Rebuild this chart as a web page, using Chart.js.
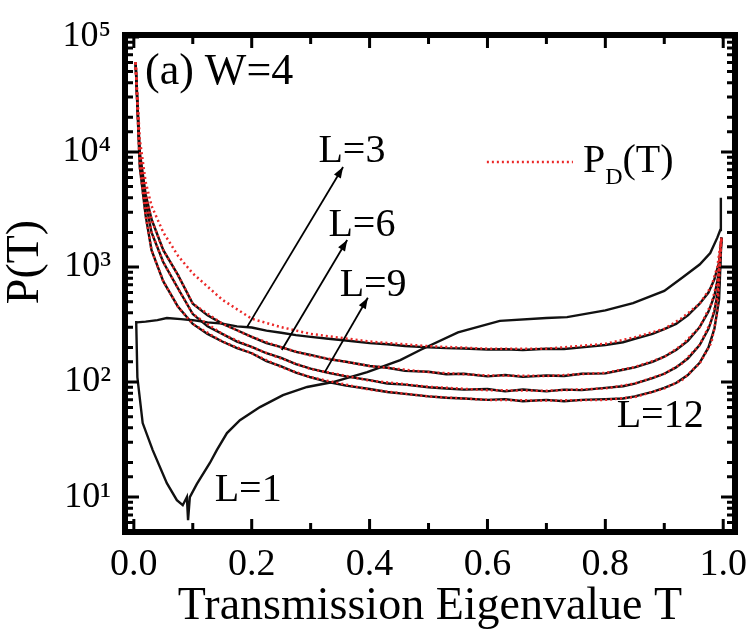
<!DOCTYPE html>
<html>
<head>
<meta charset="utf-8">
<script src="https://cdn.jsdelivr.net/npm/chart.js@4"></script>
<style>
  html, body { margin: 0; padding: 0; background: #fff; }
  #wrap { width: 752px; height: 635px; }
</style>
</head>
<body>
<div id="wrap"><canvas id="chart" width="752" height="635"></canvas></div>
<script>
// grid of transmission eigenvalue T for the P_D curves
var tGrid = [0.003, 0.01, 0.02, 0.03, 0.05, 0.075, 0.1, 0.15, 0.2, 0.25, 0.3, 0.4, 0.5, 0.6, 0.7, 0.8, 0.85, 0.9, 0.93, 0.96, 0.98, 0.99, 0.997];

// P_D(T) curves (red dotted) for L=3,6,9,12
var pdL3 = [60000, 13000, 5500, 3400, 2000, 1250, 880, 520, 355, 300, 262, 225, 205, 195, 195, 215, 245, 290, 360, 480, 680, 1000, 1800];
var pdL6 = [60000, 10000, 4300, 2600, 1400, 850, 480, 322, 247, 200, 170, 138, 122, 114, 113, 120, 135, 165, 210, 300, 480, 750, 1800];
var pdL9 = [60000, 9000, 3700, 2000, 1100, 650, 390, 262, 201, 160, 130, 103, 91, 85, 84, 88, 97, 118, 145, 210, 340, 560, 1800];
var pdL12 = [60000, 7500, 2800, 1400, 750, 450, 320, 225, 178, 135, 110, 86, 75, 70, 69, 70, 74, 88, 104, 145, 220, 400, 1800];

// numerical P(T), black
var tL1 = [0.004, 0.006, 0.015, 0.032, 0.056, 0.073, 0.083, 0.09, 0.092, 0.095, 0.107, 0.129, 0.141, 0.158, 0.18, 0.214, 0.253, 0.294, 0.338, 0.396, 0.452, 0.486, 0.55, 0.621, 0.7, 0.735, 0.8, 0.847, 0.9, 0.932, 0.96, 0.978, 0.99, 0.995, 0.996];
var pL1 = [340, 110, 44, 25.6, 13.2, 9.4, 8.5, 10, 6.3, 10, 13, 19.8, 25.7, 36, 46.6, 60.6, 77, 90.6, 100, 122, 155, 190, 270, 340, 360, 367, 420, 486, 620, 818, 1050, 1324, 1800, 2100, 4000];

var tL3 = [0.005, 0.02, 0.04, 0.056, 0.08, 0.1, 0.125, 0.15, 0.175, 0.2, 0.225, 0.25, 0.275, 0.3, 0.33, 0.36, 0.4, 0.43, 0.46, 0.5, 0.53, 0.56, 0.6, 0.63, 0.66, 0.7, 0.73, 0.76, 0.8, 0.83, 0.85, 0.88, 0.9, 0.92, 0.94, 0.96, 0.975, 0.985, 0.993, 0.997];
var pL3 = [330, 335, 345, 360, 352, 345, 330, 322, 305, 298, 280, 268, 256, 247, 238, 230, 218, 213, 206, 200, 197, 196, 192, 193, 190, 195, 194, 200, 210, 222, 238, 262, 288, 320, 380, 480, 600, 780, 1100, 1800];

var tB = [0.003, 0.01, 0.02, 0.03, 0.05, 0.075, 0.1, 0.125, 0.15, 0.175, 0.2, 0.225, 0.25, 0.275, 0.3, 0.33, 0.36, 0.4, 0.43, 0.46, 0.5, 0.53, 0.56, 0.6, 0.63, 0.66, 0.7, 0.73, 0.76, 0.8, 0.83, 0.85, 0.88, 0.9, 0.92, 0.94, 0.96, 0.975, 0.985, 0.993, 0.997];
var pL6 = [60000, 10000, 4300, 2600, 1400, 850, 480, 380, 322, 282, 247, 218, 201, 183, 172, 158, 150, 138, 133, 125, 123, 117, 118, 112, 115, 111, 114, 113, 118, 119, 128, 134, 150, 166, 190, 228, 300, 410, 560, 900, 1800];
var pL9 = [60000, 9000, 3700, 2000, 1100, 650, 390, 305, 262, 225, 202, 178, 162, 143, 131, 120, 112, 104, 97, 95, 90, 88, 86, 87, 83, 86, 83, 86, 85, 89, 92, 97, 108, 118, 134, 160, 210, 290, 410, 700, 1800];
var pL12 = [60000, 7500, 2800, 1400, 750, 450, 320, 262, 225, 197, 178, 152, 137, 121, 110, 100, 93, 87, 82, 79, 75, 73, 72, 70, 71, 68, 70, 68, 70, 71, 72, 75, 82, 89, 98, 115, 147, 200, 290, 520, 1800];

// axis ticks
var xTicks = [0, 0.1, 0.2, 0.3, 0.4, 0.5, 0.6, 0.7, 0.8, 0.9, 1.0];
var xLabels = ['0.0', '', '0.2', '', '0.4', '', '0.6', '', '0.8', '', '1.0'];
var supDigits = { 1: '\u00b9', 2: '\u00b2', 3: '\u00b3', 4: '\u2074', 5: '\u2075' };

// annotations: [text, T, P]
var curveLabels = [
    ['L=3', 0.370, 10000],
    ['L=6', 0.387, 2317],
    ['L=9', 0.406, 697],
    ['L=1', 0.194, 11.5],
    ['L=12', 0.893, 49.7]
];
// arrows: [T tail, P tail, T head, P head]
var arrows = [
    [0.192, 300, 0.355, 7400],
    [0.251, 190, 0.362, 1720],
    [0.324, 122, 0.397, 540]
];

var serif = '"Liberation Serif", "Times New Roman", serif';

function pts(xs, ys) {
    var out = [];
    for (var i = 0; i < xs.length; i++) out.push({ x: xs[i], y: ys[i] });
    return out;
}

var blackLine = function (label, xs, ys) {
    return { label: label, data: pts(xs, ys), borderColor: '#111', borderWidth: 2.4, pointRadius: 0, order: 2 };
};
var redLine = function (label, ys) {
    return { label: label, data: pts(tGrid, ys), borderColor: 'rgb(235, 40, 40)', borderWidth: 2.5,
        borderDash: [2, 3], pointRadius: 0, order: 1 };
};

function arrowTo(ctx, x0, y0, x1, y1) {
    ctx.beginPath();
    ctx.moveTo(x0, y0);
    ctx.lineTo(x1, y1);
    ctx.stroke();
    var ang = Math.atan2(y1 - y0, x1 - x0);
    var len = 11, wid = 4;
    ctx.beginPath();
    ctx.moveTo(x1, y1);
    ctx.lineTo(x1 - len * Math.cos(ang) + wid * Math.sin(ang), y1 - len * Math.sin(ang) - wid * Math.cos(ang));
    ctx.lineTo(x1 - len * Math.cos(ang) - wid * Math.sin(ang), y1 - len * Math.sin(ang) + wid * Math.cos(ang));
    ctx.closePath();
    ctx.fill();
}

// frame with inward ticks, y title, text notes, arrows and the P_D legend
var decorations = {
    id: 'decorations',
    afterDraw: function (chart) {
        var ctx = chart.ctx, a = chart.chartArea, x = chart.scales.x, y = chart.scales.y;
        ctx.save();
        ctx.strokeStyle = '#000';
        ctx.fillStyle = '#000';
        ctx.lineWidth = 3;
        xTicks.forEach(function (t, i) {
            var px = x.getPixelForValue(t);
            var len = i % 2 === 0 ? 13 : 9;
            ctx.beginPath();
            ctx.moveTo(px, a.bottom); ctx.lineTo(px, a.bottom - len);
            ctx.moveTo(px, a.top); ctx.lineTo(px, a.top + len);
            ctx.stroke();
        });
        y.ticks.forEach(function (tk) {
            var py = y.getPixelForValue(tk.value);
            var lg = Math.log10(tk.value);
            var major = Math.abs(lg - Math.round(lg)) < 1e-6;
            var len = major ? 14 : 8;
            ctx.beginPath();
            ctx.moveTo(a.left, py); ctx.lineTo(a.left + len, py);
            ctx.moveTo(a.right, py); ctx.lineTo(a.right - len, py);
            ctx.stroke();
        });
        ctx.lineWidth = 6;
        ctx.beginPath();
        ctx.rect(a.left, a.top, a.right - a.left, a.bottom - a.top);
        ctx.stroke();

        // y axis title
        ctx.save();
        ctx.translate(26, 262);
        ctx.rotate(-Math.PI / 2);
        ctx.font = '46px ' + serif;
        ctx.textAlign = 'center';
        ctx.textBaseline = 'middle';
        ctx.fillText('P(T)', 0, 0);
        ctx.restore();

        // panel label
        ctx.font = '44px ' + serif;
        ctx.textBaseline = 'middle';
        ctx.textAlign = 'left';
        ctx.fillText('(a) W=4', x.getPixelForValue(0.019), y.getPixelForValue(48700));

        ctx.font = '40px ' + serif;
        ctx.textAlign = 'center';
        curveLabels.forEach(function (c) {
            ctx.fillText(c[0], x.getPixelForValue(c[1]), y.getPixelForValue(c[2]));
        });

        ctx.lineWidth = 1.8;
        arrows.forEach(function (r) {
            arrowTo(ctx, x.getPixelForValue(r[0]), y.getPixelForValue(r[1]),
                x.getPixelForValue(r[2]), y.getPixelForValue(r[3]));
        });

        // legend for P_D(T)
        var ly = y.getPixelForValue(8185);
        ctx.strokeStyle = 'rgb(235, 40, 40)';
        ctx.lineWidth = 2.5;
        ctx.setLineDash([2, 3]);
        ctx.beginPath();
        ctx.moveTo(x.getPixelForValue(0.599), ly);
        ctx.lineTo(x.getPixelForValue(0.745), ly);
        ctx.stroke();
        ctx.setLineDash([]);
        ctx.textAlign = 'left';
        var lx = x.getPixelForValue(0.762);
        ctx.font = '40px ' + serif;
        ctx.fillText('P', lx, ly);
        var w = ctx.measureText('P').width;
        ctx.font = '24px ' + serif;
        ctx.fillText('D', lx + w, ly + 16);
        var w2 = ctx.measureText('D').width;
        ctx.font = '40px ' + serif;
        ctx.fillText('(T)', lx + w + w2, ly);
        ctx.restore();
    }
};

var config = {
    type: 'line',
    data: {
        datasets: [
            blackLine('L=1', tL1, pL1),
            blackLine('L=3', tL3, pL3),
            blackLine('L=6', tB, pL6),
            blackLine('L=9', tB, pL9),
            blackLine('L=12', tB, pL12),
            redLine('P_D L=3', pdL3),
            redLine('P_D L=6', pdL6),
            redLine('P_D L=9', pdL9),
            redLine('P_D L=12', pdL12)
        ]
    },
    options: {
        responsive: false,
        animation: false,
        layout: { padding: { top: 35, right: 17, left: 0, bottom: 0 } },
        plugins: { legend: { display: false }, tooltip: { enabled: false } },
        scales: {
            x: {
                type: 'linear',
                min: -0.015,
                max: 1.02,
                afterBuildTicks: function (scale) {
                    scale.ticks = xTicks.map(function (v) { return { value: v }; });
                },
                afterFit: function (scale) {
                    scale.height = 103;
                    scale.paddingLeft = 0; scale.paddingRight = 0;
                },
                grid: { display: false, drawTicks: false },
                border: { display: false },
                ticks: {
                    autoSkip: false, maxRotation: 0, padding: 10, color: '#000',
                    font: { family: serif, size: 38 },
                    callback: function (v, i) { return xLabels[i]; }
                },
                title: {
                    display: true, text: 'Transmission Eigenvalue T', color: '#000',
                    font: { family: serif, size: 46, lineHeight: 1.2 }, padding: { top: 0, bottom: 0 }
                }
            },
            y: {
                type: 'logarithmic',
                min: 4.97,
                max: 104000,
                afterFit: function (scale) {
                    scale.width = 125;
                    scale.paddingTop = 0; scale.paddingBottom = 0;
                },
                grid: { display: false, drawTicks: false },
                border: { display: false },
                ticks: {
                    autoSkip: false, padding: 14, color: '#000',
                    font: { family: serif, size: 36 },
                    callback: function (v) {
                        var lg = Math.log10(v);
                        if (Math.abs(lg - Math.round(lg)) < 1e-6) return '10' + supDigits[Math.round(lg)];
                        return '';
                    }
                },
                title: { display: false }
            }
        }
    },
    plugins: [decorations]
};

new Chart(document.getElementById('chart'), config);
</script>
</body>
</html>
